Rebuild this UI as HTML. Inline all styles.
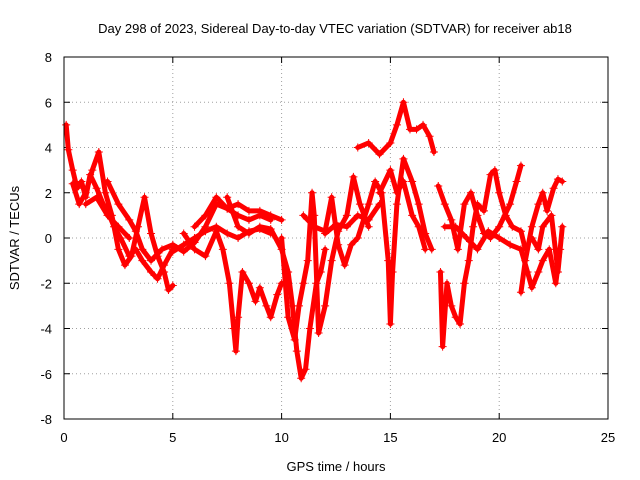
<!DOCTYPE html>
<html><head><meta charset="utf-8"><style>
body{margin:0;background:#fff}
svg{display:block;font-family:"Liberation Sans",sans-serif;font-size:13px}
</style></head><body>
<svg id="chart" width="640" height="480">
<text x="335" y="33" text-anchor="middle">Day 298 of 2023, Sidereal Day-to-day VTEC variation (SDTVAR) for receiver ab18</text>
<text x="336" y="471" text-anchor="middle">GPS time / hours</text>
<text x="19" y="238" text-anchor="middle" transform="rotate(-90 19 238)">SDTVAR / TECUs</text>
<g id="grid"></g>
<g id="ticks"></g>
<g id="series"></g>
<rect x="64" y="57" width="544" height="362" fill="none" stroke="#000"/>
</svg>
<script>
const xTicks=[0,5,10,15,20,25];
const yTicks=[-8,-6,-4,-2,0,2,4,6,8];
const trackA_t=[0.1,0.2,0.4,0.6,0.8,1.0,1.2,1.5,1.8,2.0,2.3,2.6,3.0,3.3,3.6,4.0,4.3,4.6,5.0];
const trackA_v=[5,3.9,3,2.2,2.5,1.8,2.8,2.2,1.5,1.2,0.5,0,-0.8,-0.5,-1,-1.5,-1.8,-1.2,-0.5];
const trackB_t=[0.4,0.7,1.0,1.3,1.6,1.9,2.2,2.5,2.8,3.1,3.4,3.7,4.0,4.3,4.6,4.8,5.0];
const trackB_v=[2.4,1.5,2.0,3.0,3.8,2.0,1.0,-0.5,-1.2,-0.8,0.5,1.8,0.2,-0.8,-1.5,-2.3,-2.1];
const trackC_t=[2.0,2.5,3.0,3.3,3.6,4.0,4.5,5.0,5.5,6.0,6.5,7.0,7.5,8.0,8.5,9.0,9.5];
const trackC_v=[2.5,1.5,0.8,0.3,-0.5,-1.0,-0.5,-0.3,-0.6,-0.2,0.5,1.5,1.3,1.0,0.8,1.0,0.8];
const trackD_t=[5.5,6.0,6.5,7.0,7.3,7.6,7.8,7.9,8.0,8.2,8.5,8.8,9.0,9.3,9.5,9.8,10.0];
const trackD_v=[0.2,-0.5,-0.8,0.3,-0.5,-2,-4,-5,-3.5,-1.5,-2,-2.8,-2.2,-3,-3.5,-2.5,-2];
const trackE_t=[7.5,8.0,8.5,9.0,9.5,10.0,10.3,10.5,10.7,10.9,11.1,11.3,11.6,11.8,12.0];
const trackE_v=[1.8,0.5,0.2,0.5,0.4,-0.5,-1.5,-3,-5,-6.2,-5.8,-4,-2,-1.5,-0.5];
const trackF_t=[10.0,10.3,10.6,10.8,11.0,11.2,11.4,11.5,11.7,12.0,12.3,12.6,13.0,13.3,13.6,14.0];
const trackF_v=[0,-3.5,-4.5,-3,-2,-1,2,1,-4.2,-3,-1,0.3,1,2.7,1.5,0.5];
const trackG_t=[11.0,11.5,12.0,12.3,12.6,12.9,13.2,13.5,14.0,14.3,14.6,14.9,15.0,15.1,15.3,15.6,16.0,16.3,16.6,16.9];
const trackG_v=[1,0.5,0.3,1.8,-0.3,-1.2,-0.3,0,1.5,2.5,2,-1,-3.8,-1.5,1.5,3.5,2.5,1.5,0.2,-0.5];
const trackH_t=[13.5,14.0,14.5,15.0,15.3,15.6,15.9,16.2,16.5,16.8,17.0];
const trackH_v=[4,4.2,3.7,4.2,5,6,4.8,4.8,5,4.5,3.8];
const trackI_t=[14.5,15.0,15.3,15.6,16.0,16.3,16.6];
const trackI_v=[2,3,2,2.5,1,0.5,-0.5];
const trackJ_t=[17.3,17.4,17.6,17.8,18.0,18.2,18.4,18.6,18.8,19.0,19.3,19.6,19.8,20.0,20.3,20.6,21.0,21.2];
const trackJ_v=[-1.5,-4.8,-2,-3,-3.5,-3.8,-2,-1,0.5,1.5,1.2,2.8,3,2,1,0.5,0.3,-0.5];
const trackK_t=[17.2,17.5,17.8,18.1,18.4,18.7,19.0,19.3,19.6,20.0,20.5,20.8,21.0];
const trackK_v=[2.3,1.5,0.8,-0.5,1.5,2,1,0.2,0,0.5,1.5,2.5,3.2];
const trackL_t=[17.5,18.0,18.5,19.0,19.5,20.0,20.5,21.0,21.3,21.5,21.8,22.0,22.3,22.6,22.8];
const trackL_v=[0.5,0.5,0,-0.5,0.3,0,-0.3,-0.5,-1.5,-2.2,-1.5,-1,-0.5,-2,-0.5];
const trackM_t=[21.0,21.2,21.5,21.8,22.0,22.2,22.5,22.7,22.9];
const trackM_v=[-2.4,-1,0.5,1.5,2,1.2,2.2,2.6,2.5];
const trackN_t=[21.5,21.8,22.0,22.4,22.7,22.9];
const trackN_v=[0,-0.5,0.5,1,-1.5,0.5];
const trackO_t=[6.0,6.5,7.0,7.5,8.0,8.5,9.0,9.5,10.0];
const trackO_v=[0.5,1.0,1.8,1.3,1.5,1.2,1.2,1.0,0.8];
const trackP_t=[5.0,5.5,6.0,6.5,7.0,7.5,8.0,8.5,9.0,9.5];
const trackP_v=[-0.6,-0.3,0,0.3,0.5,0.2,0,0.3,0.4,0.2];
const trackQ_t=[12.0,12.5,13.0,13.5,14.0,14.5];
const trackQ_v=[0.2,0.6,0.5,1.0,0.8,1.5];
const trackR_t=[1.0,1.5,2.0,2.5,3.0];
const trackR_v=[1.5,1.8,1.0,0.5,0];
const tracks=[[trackA_t,trackA_v],[trackB_t,trackB_v],[trackC_t,trackC_v],[trackD_t,trackD_v],[trackE_t,trackE_v],[trackF_t,trackF_v],[trackG_t,trackG_v],[trackH_t,trackH_v],[trackI_t,trackI_v],[trackJ_t,trackJ_v],[trackK_t,trackK_v],[trackL_t,trackL_v],[trackM_t,trackM_v],[trackN_t,trackN_v],[trackO_t,trackO_v],[trackP_t,trackP_v],[trackQ_t,trackQ_v],[trackR_t,trackR_v]];

const NS="http://www.w3.org/2000/svg";
const X0=64,X1=608,Y0=419,Y1=57;
function xs(t){return X0+(t-0)/(25-0)*(X1-X0);}
function ys(v){return Y0-(v+8)/16*(Y0-Y1);}
function mk(tag,attrs,parent){const e=document.createElementNS(NS,tag);for(const k in attrs)e.setAttribute(k,attrs[k]);parent.appendChild(e);return e;}
const grid=document.getElementById('grid'),ticks=document.getElementById('ticks'),series=document.getElementById('series');
xTicks.forEach(t=>{
  const x=xs(t);
  if(t>0&&t<25){const g=mk('line',{x1:x,x2:x,y1:Y1,y2:Y0,stroke:'#a0a0a0','stroke-dasharray':'1,3'},grid);
  
  }
  mk('line',{x1:x,x2:x,y1:Y0,y2:Y0-6,stroke:'#000'},ticks);
  mk('line',{x1:x,x2:x,y1:Y1,y2:Y1+6,stroke:'#000'},ticks);
  const l=mk('text',{x:x,y:Y0+23,'text-anchor':'middle'},ticks);l.textContent=t;
  
  
});
yTicks.forEach(v=>{
  const y=ys(v);
  if(v>-8&&v<8){const g=mk('line',{x1:X0,x2:X1,y1:y,y2:y,stroke:'#a0a0a0','stroke-dasharray':'1,3'},grid);
  
  }
  mk('line',{x1:X0,x2:X0+6,y1:y,y2:y,stroke:'#000'},ticks);
  mk('line',{x1:X1,x2:X1-6,y1:y,y2:y,stroke:'#000'},ticks);
  const l=mk('text',{x:X0-12,y:y+5,'text-anchor':'end'},ticks);l.textContent=v;
  
  
});
tracks.forEach((tr,i)=>{
  const [ts,vs]=tr;
  const pts=ts.map((t,j)=>xs(t)+','+ys(vs[j])).join(' ');
  const pl=mk('polyline',{points:pts,fill:'none',stroke:'#f00','stroke-width':5,'stroke-linejoin':'round','stroke-linecap':'round'},series);
  
  
  ts.forEach((t,j)=>{
    const x=xs(t),y=ys(vs[j]);
    const p=mk('path',{d:`M${x-4},${y}h8M${x},${y-4}v8`,stroke:'#f00','stroke-width':1},series);
    
    
  });
});
</script>
</body></html>
